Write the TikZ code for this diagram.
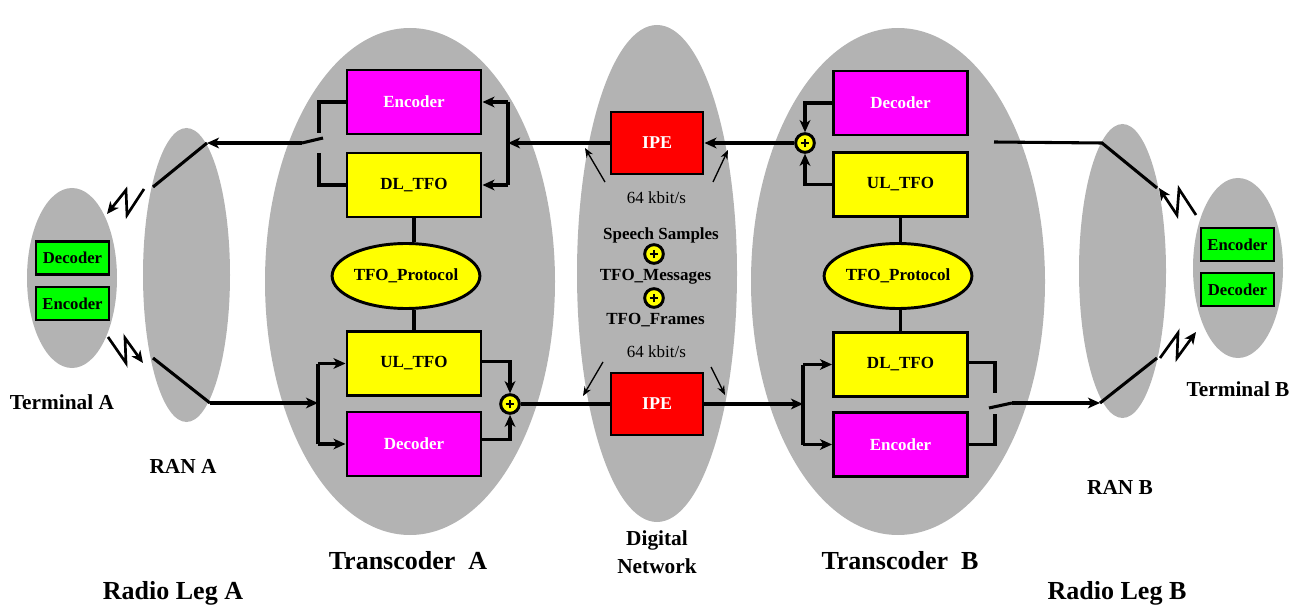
\documentclass[tikz,border=0pt]{standalone}
\usepackage{fontspec}
\setmainfont{Liberation Serif}
\usetikzlibrary{arrows.meta,shapes.geometric}
\definecolor{ellg}{RGB}{179,179,179}
\definecolor{mag}{RGB}{255,0,255}
\definecolor{yel}{RGB}{255,255,0}
\definecolor{rd}{RGB}{255,0,0}
\definecolor{grn}{RGB}{0,255,0}
\newcommand\plusin[1]{\draw[line width=2.2pt] ([xshift=-3.3pt]#1.center) -- ([xshift=3.3pt]#1.center) ([yshift=-3.3pt]#1.center) -- ([yshift=3.3pt]#1.center);}
\begin{document}
\begin{tikzpicture}[x=0.75pt,y=-0.75pt,
  box/.style={draw=black, line width=2.2pt, minimum width=100.5pt, minimum height=48pt, inner sep=0pt, font=\fontsize{12.75}{15}\selectfont\bfseries},
  magbox/.style={box, fill=mag, text=white},
  yelbox/.style={box, fill=yel},
  ipebox/.style={box, fill=rd, text=white, minimum width=69pt, minimum height=46.5pt, font=\fontsize{13.5}{16}\selectfont\bfseries},
  gbox/.style={draw=black, line width=2pt, fill=grn, minimum width=54.75pt, minimum height=24.75pt, inner sep=0pt, font=\fontsize{12.5}{15}\selectfont\bfseries},
  proto/.style={ellipse, draw=black, line width=2.2pt, fill=yel, minimum width=91.5pt, minimum height=48.75pt, inner sep=0pt, font=\fontsize{12.75}{15}\selectfont\bfseries},
  sumnode/.style={circle, draw=black, line width=2.2pt, fill=yel, minimum size=14pt, inner sep=0pt},
  conn/.style={line width=2.3pt},
  arr/.style={conn, -{Stealth[length=9pt,width=8pt,inset=2.5pt]}},
  bolt/.style={line width=2pt, -{Stealth[length=9pt,width=8pt,inset=2.5pt]}},
  thinarr/.style={line width=1pt, -{Stealth[length=7pt,width=5.5pt]}},
  txt/.style={font=\fontsize{12.75}{15}\selectfont\bfseries, inner sep=0pt},
  rate/.style={font=\fontsize{12.75}{15}\selectfont, inner sep=0pt},
  lbl/.style={font=\fontsize{16}{19}\selectfont\bfseries, inner sep=0pt, align=center},
  biglbl/.style={font=\fontsize{19.5}{23}\selectfont\bfseries, inner sep=0pt}
]
\useasboundingbox (0,0) rectangle (1290,606);
% background ellipses
\fill[ellg] (72,278) ellipse [x radius=45, y radius=90];
\fill[ellg] (186.5,275) ellipse [x radius=43.5, y radius=147];
\fill[ellg] (410,281.5) ellipse [x radius=145, y radius=253.5];
\fill[ellg] (657,273.5) ellipse [x radius=80, y radius=248.5];
\fill[ellg] (898,281.5) ellipse [x radius=147, y radius=253.5];
\fill[ellg] (1122.5,271) ellipse [x radius=43.5, y radius=147];
\fill[ellg] (1238,268) ellipse [x radius=45, y radius=90];

% Terminal A
\node[gbox] (tAdec) at (72.5,258) {Decoder};
\node[gbox] (tAenc) at (72.5,303.5) {Encoder};
% Terminal B
\node[gbox] (tBenc) at (1237.5,244.5) {Encoder};
\node[gbox] (tBdec) at (1237.5,289.5) {Decoder};

% Transcoder A
\node[magbox] (encA) at (414,102) {Encoder};
\node[yelbox] (dltfoA) at (414,185) {DL\_TFO};
\node[proto] (protoA) at (406,276) {TFO\_Protocol};
\node[yelbox] (ultfoA) at (414,363.5) {UL\_TFO};
\node[magbox] (decA) at (414,444) {Decoder};
\node[sumnode] (sumA) at (510,404) {};

% Transcoder B
\node[magbox] (decB) at (900.5,103) {Decoder};
\node[yelbox] (ultfoB) at (900.5,184.5) {UL\_TFO};
\node[proto] (protoB) at (898,276) {TFO\_Protocol};
\node[yelbox] (dltfoB) at (900.5,364.5) {DL\_TFO};
\node[magbox] (encB) at (900.5,444.5) {Encoder};
\node[sumnode] (sumB) at (805,143) {};

% Digital network
\node[ipebox] (ipeT) at (657,143) {IPE};
\node[ipebox] (ipeB) at (657,404) {IPE};
\node[rate] (rateT) at (656.5,198) {64 kbit/s};
\node[txt] (ss) at (661,235) {Speech Samples};
\node[sumnode] (sum1) at (654,254) {};
\node[txt] (tm) at (655.5,277) {TFO\_Messages};
\node[sumnode] (sum2) at (654,298) {};
\node[txt] (tf) at (655.5,320) {TFO\_Frames};
\node[rate] (rateB) at (656.5,352) {64 kbit/s};

\plusin{sumA}
\plusin{sumB}
\plusin{sum1}
\plusin{sum2}

% coordinates
\coordinate (swAt) at (319,133);
\coordinate (swAb) at (319,153);
\coordinate (swAp) at (302,143);
\coordinate (swAq) at (323,138);
\coordinate (ranAt) at (207,143);
\coordinate (ranAtd) at (153,187);
\coordinate (jA) at (508,143);
\coordinate (jAt) at (508,102);
\coordinate (jAb) at (508,185);
\coordinate (ranAbd) at (153,358);
\coordinate (ranAb) at (210,403);
\coordinate (kA) at (318,403);
\coordinate (kAt) at (318,363.5);
\coordinate (kAb) at (318,444);
\coordinate (kB) at (803,404);
\coordinate (kBt) at (803,364.5);
\coordinate (kBb) at (803,444.5);
\coordinate (outB) at (994,142);
\coordinate (ranBt) at (1102,143);
\coordinate (ranBtd) at (1157,188);
\coordinate (swBt) at (995,393);
\coordinate (swBb) at (995,414);
\coordinate (swBp) at (989,408);
\coordinate (swBq) at (1012,403);
\coordinate (ranBb) at (1100,403);
\coordinate (ranBbd) at (1157,358);

% Transcoder A connectors
\draw[conn] (encA.west) -| (swAt);
\draw[conn] (dltfoA.west) -| (swAb);
\draw[conn] (swAp) -- (swAq);
\draw[arr] (swAp) -- (ranAt);
\draw[conn] (ranAt) -- (ranAtd);
\draw[arr] (ipeT.west) -- (jA);
\draw[conn] (jAt) -- (jAb);
\draw[arr] (jAt) -- (encA.east);
\draw[arr] (jAb) -- (dltfoA.east);
\draw[conn] (dltfoA.south) -- (dltfoA.south |- protoA.north);
\draw[conn] (ultfoA.north |- protoA.south) -- (ultfoA.north);
\draw[conn] (ranAbd) -- (ranAb);
\draw[arr] (ranAb) -- (kA);
\draw[conn] (kAt) -- (kAb);
\draw[arr] (kAt) -- (ultfoA.west);
\draw[arr] (kAb) -- (decA.west);
\draw[arr] ([yshift=1.5pt]ultfoA.east) -| (sumA.north);
\draw[arr] ([yshift=3.5pt]decA.east) -| (sumA.south);
\draw[conn] (sumA.east) -- (ipeB.west);

% Transcoder B connectors
\draw[arr] (sumB.west) -- (ipeT.east);
\draw[arr] (decB.west) -| (sumB.north);
\draw[arr] (ultfoB.west) -| (sumB.south);
\draw[conn] (ultfoB.south) -- (ultfoB.south |- protoB.north);
\draw[conn] (dltfoB.north |- protoB.south) -- (dltfoB.north);
\draw[arr] (ipeB.east) -- (kB);
\draw[conn] (kBt) -- (kBb);
\draw[arr] (kBt) -- (dltfoB.west);
\draw[arr] (kBb) -- (encB.west);
\draw[conn] (outB) -- (ranBt) -- (ranBtd);
\draw[conn] ([yshift=1.5pt]dltfoB.east) -| (swBt);
\draw[conn] (encB.east) -| (swBb);
\draw[conn] (swBp) -- (swBq);
\draw[arr] (swBq) -- (ranBb);
\draw[conn] (ranBb) -- (ranBbd);

% thin rate arrows
\draw[thinarr] (605,182) -- (585,148);
\draw[thinarr] (713,182) -- (728,150);
\draw[thinarr] (603,362) -- (583,396);
\draw[thinarr] (711,367) -- (725,395);

% radio bolts
\draw[bolt] (144,189) -- (127,215) -- (126,190) -- (107,214);
\draw[bolt] (108,337) -- (126,363) -- (125,338) -- (143,363);
\draw[bolt] (1196,215) -- (1179,189) -- (1177,215) -- (1159,188);
\draw[bolt] (1160,358) -- (1178,333) -- (1177,358) -- (1196,332);

% labels
\node[lbl] (lTA) at (62,402) {Terminal A};
\node[lbl] (lRA) at (183,466) {RAN A};
\node[biglbl] (lTrA) at (408,561) {Transcoder\ \ A};
\node[biglbl] (lRLA) at (173,593) {Radio Leg A};
\node[lbl] (lDN) at (657,552) {Digital\\[2pt]Network};
\node[biglbl] (lTrB) at (900,561) {Transcoder\ \ B};
\node[lbl] (lRB) at (1120,487) {RAN B};
\node[lbl] (lTB) at (1238,389) {Terminal B};
\node[biglbl] (lRLB) at (1117,593) {Radio Leg B};
\end{tikzpicture}
\end{document}
